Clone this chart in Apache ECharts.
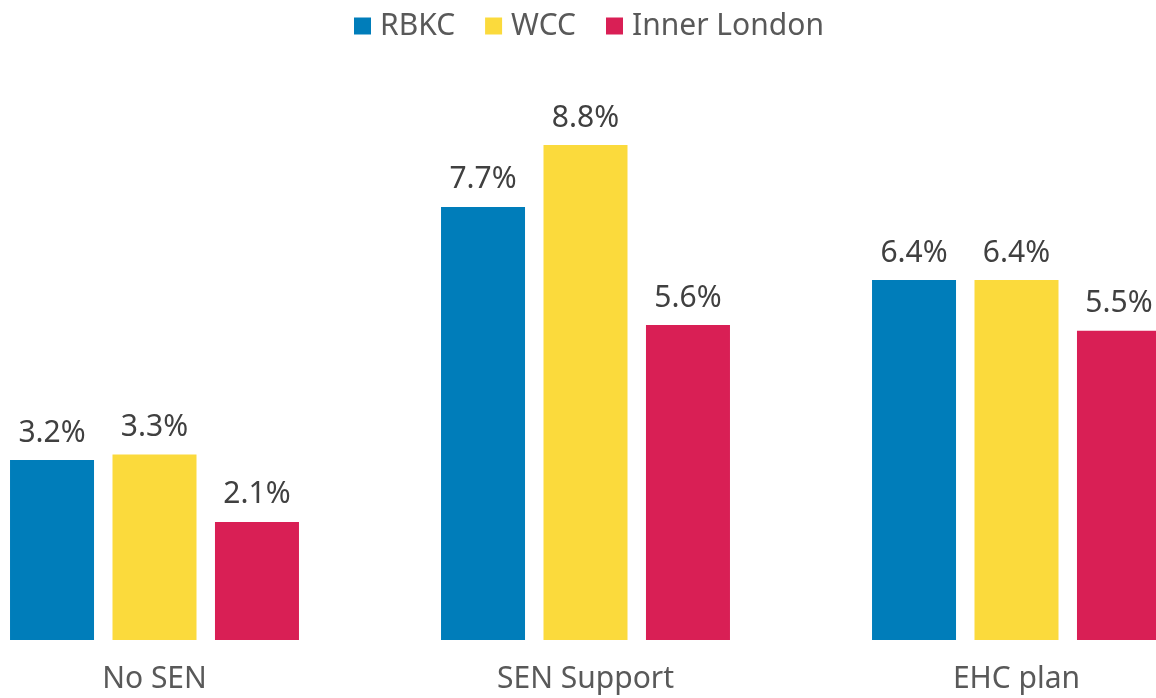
<!DOCTYPE html>
<html>
<head>
<meta charset="utf-8">
<script src="https://cdn.jsdelivr.net/npm/echarts@6/dist/echarts.min.js"></script>
<style>
  html, body { margin: 0; padding: 0; background: #fff; overflow: hidden; }
  body { width: 1156px; height: 698px; position: relative; }
  /* the plot is cropped on both sides in the source, so the chart is wider than the window */
  #chart { position: absolute; left: -61px; top: 0; width: 1293px; height: 698px; }
</style>
</head>
<body>
<div id="chart"></div>
<script>
const categories = ['No SEN', 'SEN Support', 'EHC plan'];
const seriesNames = ['RBKC', 'WCC', 'Inner London'];
const rbkc = [3.2, 7.7, 6.4];
const wcc = [3.3, 8.8, 6.4];
const innerLondon = [2.1, 5.6, 5.5];
const colors = ['#007DBA', '#FBDA3C', '#D91F55'];

const chart = echarts.init(document.getElementById('chart'));

const font = '"Noto Sans", sans-serif';

function barSeries(name, values, color) {
  return {
    name: name,
    type: 'bar',
    data: values,
    barWidth: 84,
    barGap: '22%',
    itemStyle: { color: color },
    label: {
      show: true,
      position: 'top',
      distance: 12,
      formatter: p => p.value.toFixed(1) + '%',
      fontFamily: font,
      fontSize: 30,
      color: '#404040'
    }
  };
}

chart.setOption({
  animation: false,
  textStyle: { fontFamily: font },
  legend: {
    top: 6,
    left: 410,
    icon: 'rect',
    itemWidth: 17,
    itemHeight: 17,
    itemGap: 30,
    data: seriesNames,
    textStyle: {
      fontFamily: font,
      fontSize: 30,
      color: '#595959',
      padding: [0, 0, 0, 4]
    }
  },
  grid: { left: 0, right: 0, top: 77.5, bottom: 58, containLabel: false },
  xAxis: {
    type: 'category',
    data: categories,
    axisLine: { show: false },
    axisTick: { show: false },
    axisLabel: {
      margin: 24,
      fontFamily: font,
      fontSize: 30,
      color: '#595959'
    }
  },
  yAxis: {
    type: 'value',
    min: 0,
    max: 10,
    show: false,
    splitLine: { show: false }
  },
  series: [
    barSeries(seriesNames[0], rbkc, colors[0]),
    barSeries(seriesNames[1], wcc, colors[1]),
    barSeries(seriesNames[2], innerLondon, colors[2])
  ]
});
</script>
</body>
</html>
